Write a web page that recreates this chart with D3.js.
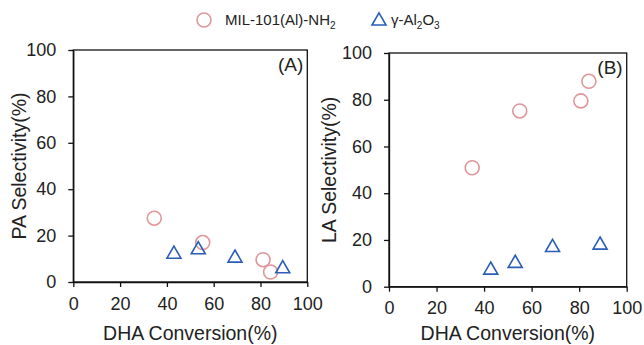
<!DOCTYPE html>
<html><head><meta charset="utf-8">
<script src="https://cdn.jsdelivr.net/npm/d3@7"></script>
<style>body{margin:0;background:#fff}svg{display:block}text{font-family:"Liberation Sans",Arial,sans-serif;fill:#222}</style>
</head><body>
<svg id="c" width="644" height="345"></svg>
<script>
const xTicks = [0,20,40,60,80,100];
const yTicks = [0,20,40,60,80,100];
const mofConvA = [34.6,55.3,81.1,84.3];
const mofPA = [27.5,17.0,9.6,4.3];
const aluConvA = [43.0,53.4,69.1,89.5];
const aluPA = [12.0,13.9,10.3,5.7];
const mofConvB = [35.0,55.0,80.7,84.1];
const mofLA = [50.9,75.2,79.5,87.9];
const aluConvB = [42.8,53.1,68.8,88.8];
const aluLA = [7.1,10.0,16.8,17.8];
const pink = "#e0969a", blue = "#2a5db8";

const svg = d3.select("#c");
const panels = [
  {l:73.3,r:307.3,t:50,b:282, ylab:"PA Selectivity(%)", tag:"(A)", yl:19, xlOff:58,
   mx:mofConvA, my:mofPA, ax:aluConvA, ay:aluPA},
  {l:389,r:626.7,t:53,b:286.7, ylab:"LA Selectivity(%)", tag:"(B)", yl:329, xlOff:53.5,
   mx:mofConvB, my:mofLA, ax:aluConvB, ay:aluLA}
];
const tri = d3.symbol().type(d3.symbolTriangle).size(85);
panels.forEach(p=>{
  const x = d3.scaleLinear().domain([0,100]).range([p.l,p.r]);
  const y = d3.scaleLinear().domain([0,100]).range([p.b,p.t]);
  const g = svg.append("g");
  g.append("rect").attr("x",p.l).attr("y",p.t).attr("width",p.r-p.l).attr("height",p.b-p.t)
    .attr("fill","none").attr("stroke","#111").attr("stroke-width",1.3);
  const xa = g.append("g").attr("transform",`translate(0,${p.b})`)
    .call(d3.axisBottom(x).tickValues(xTicks).tickSize(5).tickPadding(10).tickSizeOuter(0));
  const ya = g.append("g").attr("transform",`translate(${p.l},0)`)
    .call(d3.axisLeft(y).tickValues(yTicks).tickSize(5).tickPadding(12).tickSizeOuter(0));
  [xa,ya].forEach(a=>{
    a.select(".domain").attr("stroke","#111").attr("stroke-width",1.3);
    a.selectAll(".tick line").attr("stroke","#111").attr("stroke-width",1.3);
    a.selectAll(".tick text").style("font-size","18px").style("fill","#222")
      .style("font-family",'"Liberation Sans",Arial,sans-serif');
  });
  g.append("text").attr("x",(p.l+p.r)/2).attr("y",p.b+p.xlOff).attr("text-anchor","middle")
    .style("font-size","19.5px").text("DHA Conversion(%)");
  g.append("text").attr("transform",`translate(${p.yl},${(p.t+p.b)/2}) rotate(-90)`)
    .attr("text-anchor","middle").attr("dy","0.35em").style("font-size","19.5px").text(p.ylab);
  g.append("text").attr("x",p.r-4).attr("y",p.t+21).attr("text-anchor","end")
    .style("font-size","19px").text(p.tag);
  g.selectAll(".m").data(p.mx.map((v,i)=>[v,p.my[i]])).enter().append("circle")
    .attr("cx",d=>x(d[0])).attr("cy",d=>y(d[1])).attr("r",7)
    .attr("fill","none").attr("stroke",pink).attr("stroke-width",1.6);
  g.selectAll(".a").data(p.ax.map((v,i)=>[v,p.ay[i]])).enter().append("path")
    .attr("d",tri).attr("transform",d=>`translate(${x(d[0])},${y(d[1])})`)
    .attr("fill","none").attr("stroke",blue).attr("stroke-width",1.6);
});
// legend
const lg = svg.append("g");
lg.append("circle").attr("cx",204).attr("cy",20).attr("r",7).attr("fill","none").attr("stroke",pink).attr("stroke-width",1.6);
const t1 = lg.append("text").attr("x",225).attr("y",25).style("font-size","15px");
t1.append("tspan").text("MIL-101(Al)-NH");
t1.append("tspan").attr("dy",4).style("font-size","10px").text("2");
lg.append("path").attr("d",tri).attr("transform","translate(379,21)").attr("fill","none").attr("stroke",blue).attr("stroke-width",1.6);
const t2 = lg.append("text").attr("x",391).attr("y",25).style("font-size","15px");
t2.append("tspan").text("γ-Al");
t2.append("tspan").attr("dy",4).style("font-size","10px").text("2");
t2.append("tspan").attr("dy",-4).text("O");
t2.append("tspan").attr("dy",4).style("font-size","10px").text("3");
</script>
</body></html>
